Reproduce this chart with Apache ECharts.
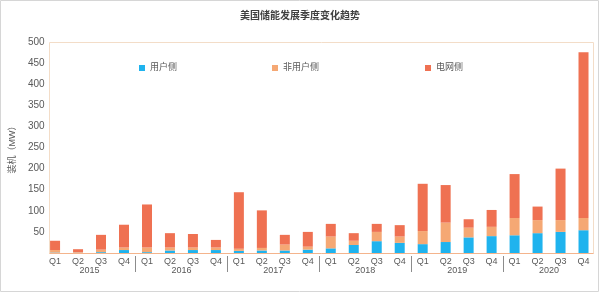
<!DOCTYPE html>
<html>
<head>
<meta charset="utf-8">
<script src="https://cdn.jsdelivr.net/npm/echarts@6/dist/echarts.min.js"></script>
<style>
html,body{margin:0;padding:0;background:#fff;}
#c{width:600px;height:293px;}
</style>
</head>
<body>
<div id="c"></div>
<script>
const quarters = ['Q1','Q2','Q3','Q4','Q1','Q2','Q3','Q4','Q1','Q2','Q3','Q4','Q1','Q2','Q3','Q4','Q1','Q2','Q3','Q4','Q1','Q2','Q3','Q4'];
const years = ['2015','2016','2017','2018','2019','2020'];
const yearBoundaries = ['','','','','','',''];
const userSide =    [1, 0.5, 2, 7, 2, 6, 7, 7, 5, 6, 6, 8, 11, 19, 28, 24, 21, 26, 37, 40, 42, 47, 50, 54];
const nonUserSide = [6, 1.5, 6, 6, 11, 7, 6, 6, 5, 6, 14, 7, 28, 10, 22, 15, 31, 46, 23, 22, 41, 31, 28, 29];
const gridSide =    [22, 7, 35, 54, 102, 34, 32, 18, 134, 89, 23, 35, 30, 18, 19, 27, 112, 89, 20, 40, 104, 32, 122, 393];
const yTicks = {min: 0, max: 500, interval: 50};
const seriesNames = ['用户侧', '非用户侧', '电网侧'];
const colors = ['#1FB3EE', '#F5A874', '#EF7152'];

const chart = echarts.init(document.getElementById('c'), null, {renderer: 'canvas'});
const font = "'Liberation Sans','Noto Sans CJK SC',sans-serif";
const legendBase = {
  orient: 'horizontal', top: 62, padding: 0, itemWidth: 6, itemHeight: 6, itemGap: 5,
  icon: 'rect',
  textStyle: {fontSize: 9, color: '#595959', lineHeight: 12, fontFamily: font}
};
chart.setOption({
  animation: false,
  textStyle: {fontFamily: font},
  title: {
    text: '美国储能发展季度变化趋势', left: 'center', top: 11, padding: 0,
    textStyle: {fontSize: 10, fontWeight: 'bold', color: '#404040', fontFamily: font}
  },
  legend: [
    Object.assign({}, legendBase, {left: 139, data: [seriesNames[0]]}),
    Object.assign({}, legendBase, {left: 272, data: [seriesNames[1]]}),
    Object.assign({}, legendBase, {left: 425, data: [seriesNames[2]]})
  ],
  graphic: {
    elements: [
      {type: 'rect', z: -10, silent: true, shape: {x: 0.5, y: 0.5, width: 598, height: 291},
       style: {fill: null, stroke: '#D6D6D6', lineWidth: 1}},
      {type: 'rect', z: -10, silent: true, shape: {x: 49.5, y: 42.5, width: 544, height: 211},
       style: {fill: null, stroke: '#F3DDC8', lineWidth: 1}}
    ]
  },
  grid: {left: 38, right: 5, top: 42, bottom: 40, containLabel: false},
  xAxis: [
    {
      type: 'category', data: quarters, position: 'bottom',
      axisLine: {show: false}, axisTick: {show: false},
      axisLabel: {fontSize: 9, color: '#595959', margin: 4, interval: 0}
    },
    {
      type: 'category', data: years, position: 'bottom',
      axisLine: {show: false}, axisTick: {show: false},
      axisLabel: {fontSize: 9, color: '#595959', margin: 13, interval: 0}
    },
    {
      type: 'category', data: yearBoundaries, position: 'bottom', boundaryGap: false, offset: 3,
      axisLine: {show: false}, axisLabel: {show: false},
      axisTick: {show: true, length: 16, interval: function (i) { return i > 0 && i < yearBoundaries.length - 1; },
                 lineStyle: {color: '#8C8C8C', width: 1}}
    }
  ],
  yAxis: {
    type: 'value', min: yTicks.min, max: yTicks.max, interval: yTicks.interval,
    offset: -11,
    name: '装机（MW）', nameLocation: 'middle', nameGap: 33, nameRotate: 90,
    nameTextStyle: {fontSize: 9, color: '#595959', fontFamily: font},
    axisLine: {show: false}, axisTick: {show: false}, splitLine: {show: false},
    axisLabel: {fontSize: 10, color: '#595959', margin: 10, showMinLabel: false}
  },
  series: [
    {name: seriesNames[0], type: 'bar', stack: 'total', barWidth: 10, data: userSide, itemStyle: {color: colors[0]}},
    {name: seriesNames[1], type: 'bar', stack: 'total', barWidth: 10, data: nonUserSide, itemStyle: {color: colors[1]}},
    {name: seriesNames[2], type: 'bar', stack: 'total', barWidth: 10, data: gridSide, itemStyle: {color: colors[2]}}
  ]
});
// bottom axis line drawn via a markLine-free approach: use the x-axis baseline
chart.setOption({
  graphic: {
    elements: [
      {type: 'rect', z: -10, silent: true, shape: {x: 0.5, y: 0.5, width: 598, height: 291},
       style: {fill: null, stroke: '#D6D6D6', lineWidth: 1}},
      {type: 'rect', z: -10, silent: true, shape: {x: 49.5, y: 42.5, width: 544, height: 211},
       style: {fill: null, stroke: '#F3DDC8', lineWidth: 1}},
      {type: 'line', z: -9, silent: true,
       shape: {x1: 49.5, y1: chart.convertToPixel({yAxisIndex: 0}, 0) + 0.5, x2: 593.5, y2: chart.convertToPixel({yAxisIndex: 0}, 0) + 0.5},
       style: {stroke: '#F4B48C', lineWidth: 1}}
    ]
  }
});
</script>
</body>
</html>
